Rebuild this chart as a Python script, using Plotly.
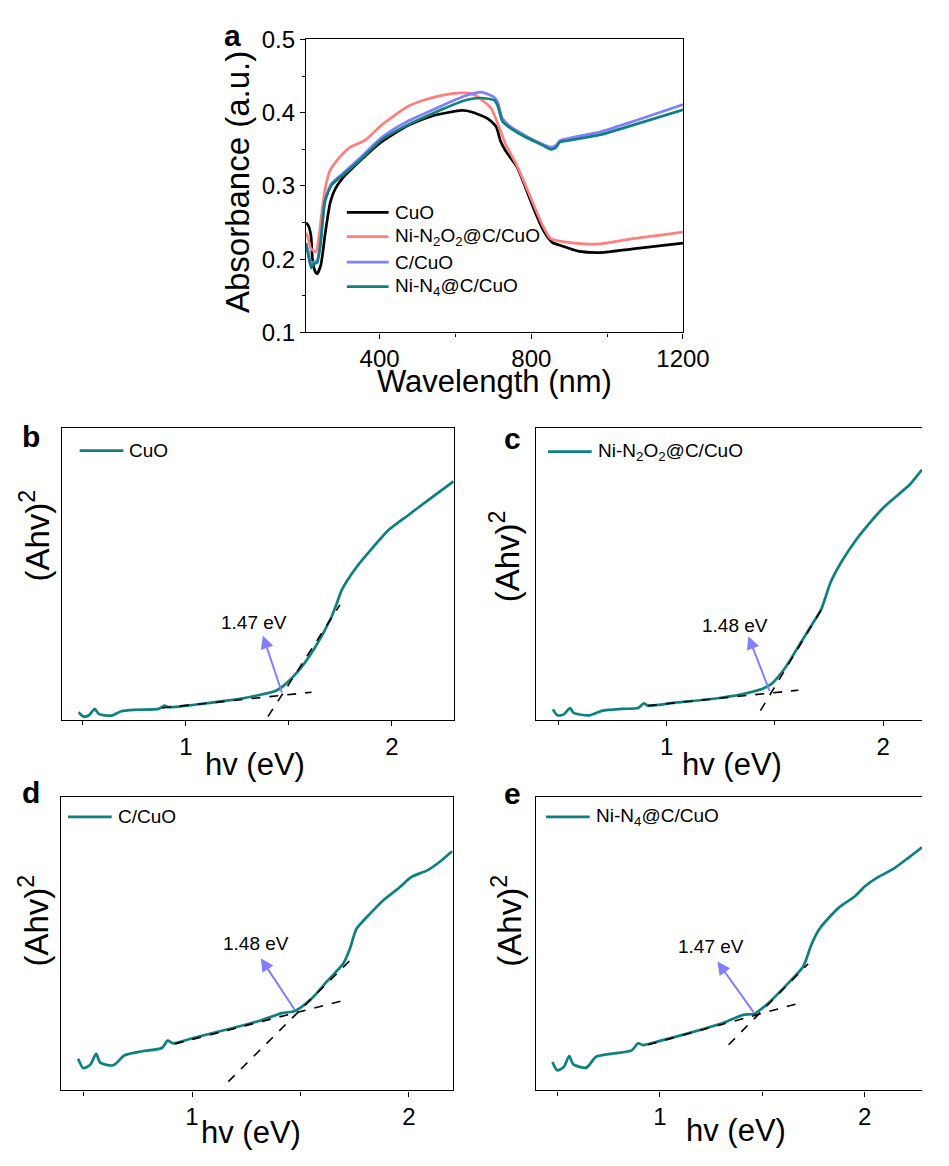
import plotly.graph_objects as go

W, H = 949, 1166
FONT = "Arial, 'Liberation Sans', sans-serif"

# ---------------- Panel a: UV-vis absorbance ----------------
wl_cuo = [206, 212, 219, 223, 230, 235, 245, 257, 270, 283, 303, 346, 405, 473, 541, 617, 643, 685, 707, 719,
          732, 762, 804, 830, 855, 881, 923, 983, 1068, 1200]
abs_cuo = [0.250, 0.246, 0.232, 0.200, 0.183, 0.180, 0.192, 0.237, 0.278, 0.296, 0.311, 0.333, 0.360, 0.382,
           0.396, 0.403, 0.401, 0.392, 0.381, 0.361, 0.348, 0.326, 0.272, 0.241, 0.223, 0.218, 0.211, 0.209,
           0.214, 0.222]

wl_n2o2 = [206, 212, 219, 225, 232, 240, 250, 260, 270, 286, 320, 363, 405, 473, 515, 558, 617, 643, 668, 694,
           719, 732, 762, 804, 830, 851, 872, 940, 983, 1068, 1200]
abs_n2o2 = [0.236, 0.228, 0.214, 0.212, 0.210, 0.230, 0.275, 0.305, 0.322, 0.334, 0.352, 0.363, 0.383, 0.408,
            0.417, 0.423, 0.427, 0.426, 0.418, 0.406, 0.375, 0.357, 0.328, 0.277, 0.246, 0.228, 0.225, 0.221,
            0.221, 0.228, 0.237]

wl_ccuo = [206, 212, 220, 226, 235, 244, 256, 273, 303, 346, 405, 473, 558, 626, 668, 702, 711, 724, 745, 787,
           821, 851, 864, 876, 898, 983, 1068, 1200]
abs_ccuo = [0.220, 0.210, 0.192, 0.196, 0.198, 0.223, 0.281, 0.303, 0.317, 0.337, 0.366, 0.388, 0.408, 0.423,
            0.428, 0.421, 0.415, 0.392, 0.381, 0.368, 0.359, 0.353, 0.355, 0.362, 0.365, 0.374, 0.388, 0.411]

wl_n4 = [206, 212, 220, 226, 235, 244, 256, 273, 303, 346, 405, 473, 558, 626, 668, 702, 711, 724, 745, 787,
         821, 851, 864, 876, 898, 983, 1068, 1200]
abs_n4 = [0.222, 0.205, 0.188, 0.194, 0.195, 0.220, 0.279, 0.301, 0.315, 0.334, 0.363, 0.383, 0.403, 0.417,
          0.420, 0.417, 0.410, 0.388, 0.379, 0.366, 0.358, 0.350, 0.352, 0.360, 0.362, 0.370, 0.383, 0.404]

names_a = ["CuO", "Ni-N<sub>2</sub>O<sub>2</sub>@C/CuO", "C/CuO", "Ni-N<sub>4</sub>@C/CuO"]
colors_a = ["#000000", "#ff7f7f", "#7f7fff", "#0f8080"]

# ---------------- Panels b-e: Tauc plots (relative units) ----------------
hv_b = [0.480, 0.503, 0.530, 0.558, 0.577, 0.640, 0.687, 0.758, 0.868, 0.896, 0.915, 1.041, 1.198, 1.340,
        1.434, 1.481, 1.544, 1.623, 1.701, 1.733, 1.756, 1.827, 1.906, 1.984, 2.079, 2.173, 2.299]
tauc_b = [0.028, 0.013, 0.017, 0.039, 0.022, 0.016, 0.031, 0.036, 0.039, 0.050, 0.045, 0.053, 0.067, 0.084,
          0.100, 0.122, 0.167, 0.245, 0.345, 0.401, 0.445, 0.523, 0.590, 0.651, 0.702, 0.752, 0.818]

hv_c = [0.475, 0.495, 0.525, 0.554, 0.570, 0.644, 0.704, 0.794, 0.868, 0.895, 0.913, 1.048, 1.197, 1.347,
        1.436, 1.481, 1.541, 1.616, 1.676, 1.713, 1.758, 1.810, 1.870, 1.930, 1.997, 2.064, 2.124, 2.179]
tauc_c = [0.037, 0.017, 0.020, 0.042, 0.025, 0.017, 0.033, 0.039, 0.042, 0.058, 0.050, 0.061, 0.072, 0.089,
          0.106, 0.123, 0.173, 0.262, 0.334, 0.379, 0.474, 0.546, 0.613, 0.669, 0.725, 0.769, 0.808, 0.858]

hv_d = [0.475, 0.499, 0.532, 0.558, 0.577, 0.637, 0.689, 0.771, 0.861, 0.888, 0.913, 1.010, 1.160, 1.309,
        1.414, 1.474, 1.549, 1.623, 1.698, 1.728, 1.758, 1.818, 1.877, 1.952, 2.012, 2.087, 2.147, 2.199]
tauc_d = [0.108, 0.076, 0.089, 0.125, 0.095, 0.086, 0.120, 0.134, 0.145, 0.170, 0.161, 0.180, 0.208, 0.237,
          0.264, 0.271, 0.312, 0.373, 0.434, 0.484, 0.551, 0.601, 0.646, 0.690, 0.729, 0.752, 0.783, 0.816]

hv_e = [0.476, 0.499, 0.531, 0.558, 0.578, 0.641, 0.689, 0.768, 0.863, 0.894, 0.918, 1.005, 1.163, 1.321,
        1.408, 1.463, 1.542, 1.621, 1.700, 1.739, 1.779, 1.874, 1.953, 2.000, 2.063, 2.142, 2.221, 2.280]
tauc_e = [0.097, 0.069, 0.080, 0.117, 0.089, 0.078, 0.115, 0.126, 0.137, 0.161, 0.155, 0.170, 0.200, 0.234,
          0.258, 0.262, 0.306, 0.362, 0.423, 0.496, 0.551, 0.624, 0.663, 0.696, 0.727, 0.757, 0.798, 0.830]

# fitted tangent lines (x pair, y pair)
base_b = ([0.884, 1.610], [0.042, 0.096]); steep_b = ([1.399, 1.748], [0.013, 0.395])
base_c = ([0.913, 1.608], [0.050, 0.103]); steep_c = ([1.433, 1.713], [0.033, 0.377])
base_d = ([0.921, 1.701], [0.159, 0.308]); steep_d = ([1.167, 1.753], [0.030, 0.462])
base_e = ([0.942, 1.665], [0.156, 0.295]); steep_e = ([1.336, 1.724], [0.156, 0.432])

gap_labels = ["1.47 eV", "1.48 eV", "1.48 eV", "1.47 eV"]
# arrow tail (x,y), arrow head (x,y), label centre (x,y)
arrow_tail = [(1.469, 0.089), (1.478, 0.095), (1.477, 0.271), (1.463, 0.262)]
arrow_head = [(1.374, 0.290), (1.377, 0.288), (1.317, 0.451), (1.281, 0.440)]
label_pos = [(1.332, 0.335), (1.317, 0.326), (1.294, 0.500), (1.250, 0.490)]

sample_names = ["CuO", "Ni-N<sub>2</sub>O<sub>2</sub>@C/CuO", "C/CuO", "Ni-N<sub>4</sub>@C/CuO"]
panel_letters = ["a", "b", "c", "d", "e"]

TEAL = "#0f8080"
ARROW = "#8080ff"


def px(x):
    return x / W


def py(y):
    return 1 - y / H


fig = go.Figure()

# Panel a traces
for wl, ab, nm, col in zip([wl_cuo, wl_n2o2, wl_ccuo, wl_n4], [abs_cuo, abs_n2o2, abs_ccuo, abs_n4],
                           names_a, colors_a):
    fig.add_trace(go.Scatter(x=wl, y=ab, mode="lines", name=nm,
                             line=dict(color=col, width=2.7, shape="spline", smoothing=0.6),
                             xaxis="x", yaxis="y", showlegend=False))

tauc = [(hv_b, tauc_b), (hv_c, tauc_c), (hv_d, tauc_d), (hv_e, tauc_e)]
bases = [base_b, base_c, base_d, base_e]
steeps = [steep_b, steep_c, steep_d, steep_e]
for i in range(4):
    ax = str(i + 2)
    fig.add_trace(go.Scatter(x=tauc[i][0], y=tauc[i][1], mode="lines",
                             line=dict(color=TEAL, width=2.7, shape="spline", smoothing=0.7),
                             xaxis="x" + ax, yaxis="y" + ax, showlegend=False))
    for ln in (bases[i], steeps[i]):
        fig.add_trace(go.Scatter(x=ln[0], y=ln[1], mode="lines",
                                 line=dict(color="black", width=1.6, dash="dash"),
                                 xaxis="x" + ax, yaxis="y" + ax, showlegend=False))

# ---------------- Layout ----------------
tickfont = dict(family=FONT, size=24, color="black")
common_axis = dict(showline=True, linecolor="black", linewidth=1.3, showgrid=False, zeroline=False,
                   ticks="outside", ticklen=5, tickwidth=1.3, tickcolor="black", tickfont=tickfont)

layout = dict(width=W, height=H, margin=dict(l=0, r=0, t=0, b=0), paper_bgcolor="white",
              plot_bgcolor="white", font=dict(family=FONT, color="black"), showlegend=False)

layout["xaxis"] = dict(common_axis, domain=[px(315), px(703)], range=[206, 1200], tickvals=[400, 800, 1200],
                       mirror=True, anchor="y",
                       minor=dict(tickvals=[600, 1000], ticklen=3, ticks="outside", tickcolor="black",
                                  tickwidth=1.3))
layout["yaxis"] = dict(common_axis, domain=[py(326), py(26)], range=[0.1, 0.5], tickvals=[0.1, 0.2, 0.3, 0.4, 0.5],
                       tickformat=".1f", mirror=True, anchor="x",
                       minor=dict(tickvals=[0.15, 0.25, 0.35, 0.45], ticklen=3, ticks="outside",
                                  tickcolor="black", tickwidth=1.3))

panel_geo = [
    # x domain px, y domain px (top,bottom), x range, mirror y
    ((64, 467), (424, 723), [0.400, 2.300], True),
    ((552, 949), (424, 723), [0.398, 2.179], False),
    ((63, 466), (802, 1102), [0.397, 2.202], True),
    ((552, 949), (802, 1102), [0.397, 2.280], False),
]
for i, (xd, yd, xr, mir) in enumerate(panel_geo):
    n = str(i + 2)
    layout["xaxis" + n] = dict(common_axis, domain=[px(xd[0]), px(xd[1])], range=xr, tickvals=[1, 2],
                               mirror=True, anchor="y" + n,
                               minor=dict(tickvals=[0.5, 1.5], ticklen=4, ticks="outside", tickcolor="black",
                                          tickwidth=1.3))
    layout["yaxis" + n] = dict(showline=True, linecolor="black", linewidth=1.3, showgrid=False, zeroline=False,
                               domain=[py(yd[1]), py(yd[0])], range=[0, 1], showticklabels=False, ticks="",
                               mirror=mir, anchor="x" + n)

annotations = []
shapes = []

# axis titles (panel a)
annotations.append(dict(text="Wavelength (nm)", x=px(509), y=py(376), xref="paper", yref="paper",
                        showarrow=False, font=dict(family=FONT, size=31), xanchor="center", yanchor="middle"))
annotations.append(dict(text="Absorbance (a.u.)", x=px(244), y=py(172), xref="paper", yref="paper",
                        showarrow=False, textangle=-90, font=dict(family=FONT, size=33), xanchor="center",
                        yanchor="middle"))

# axis titles (panels b-e)
xt_pos = [(262, 768), (753, 768), (258, 1145), (758, 1143)]
yt_pos = [(36, 534), (520, 555), (35, 928), (521, 928)]
for i in range(4):
    annotations.append(dict(text="hv (eV)", x=px(xt_pos[i][0]), y=py(xt_pos[i][1]), xref="paper", yref="paper",
                            showarrow=False, font=dict(family=FONT, size=31), xanchor="center",
                            yanchor="middle"))
    annotations.append(dict(text="(Ahv)<sup>2</sup>", x=px(yt_pos[i][0]), y=py(yt_pos[i][1]), xref="paper",
                            yref="paper", showarrow=False, textangle=-90, font=dict(family=FONT, size=33),
                            xanchor="center", yanchor="middle"))

# panel letters
letter_pos = [(239, 22), (32, 433), (527, 435), (32, 797), (527, 798)]
for L, (lx, ly) in zip(panel_letters, letter_pos):
    annotations.append(dict(text="<b>%s</b>" % L, x=px(lx), y=py(ly), xref="paper", yref="paper",
                            showarrow=False, font=dict(family=FONT, size=30), xanchor="center",
                            yanchor="middle"))

# legend of panel a
leg_a_y = [203, 228, 254, 279]
for nm, col, yy in zip(names_a, colors_a, leg_a_y):
    shapes.append(dict(type="line", xref="paper", yref="paper", x0=px(357), x1=px(400), y0=py(yy), y1=py(yy),
                       line=dict(color=col, width=2.7)))
    annotations.append(dict(text=nm, x=px(404), y=py(yy), xref="paper", yref="paper", showarrow=False,
                            font=dict(family=FONT, size=19), xanchor="left", yanchor="middle"))

# legends of panels b-e
leg_pos = [(82, 127, 447), (564, 609, 448), (70, 115, 822), (562, 607, 822)]
for nm, (x0, x1, yy) in zip(sample_names, leg_pos):
    shapes.append(dict(type="line", xref="paper", yref="paper", x0=px(x0), x1=px(x1), y0=py(yy), y1=py(yy),
                       line=dict(color=TEAL, width=2.7)))
    annotations.append(dict(text=nm, x=px(x1 + 4), y=py(yy), xref="paper", yref="paper", showarrow=False,
                            font=dict(family=FONT, size=19), xanchor="left", yanchor="middle"))

# arrows and band-gap labels
for i in range(4):
    n = str(i + 2)
    annotations.append(dict(x=arrow_head[i][0], y=arrow_head[i][1], ax=arrow_tail[i][0], ay=arrow_tail[i][1],
                            xref="x" + n, yref="y" + n, axref="x" + n, ayref="y" + n, text="",
                            showarrow=True, arrowhead=2, arrowsize=1.3, arrowwidth=2, arrowcolor=ARROW))
    annotations.append(dict(x=label_pos[i][0], y=label_pos[i][1], xref="x" + n, yref="y" + n,
                            text=gap_labels[i], showarrow=False, font=dict(family=FONT, size=19),
                            xanchor="center", yanchor="middle"))

layout["annotations"] = annotations
layout["shapes"] = shapes
fig.update_layout(**layout)
fig.write_html("out.html")
